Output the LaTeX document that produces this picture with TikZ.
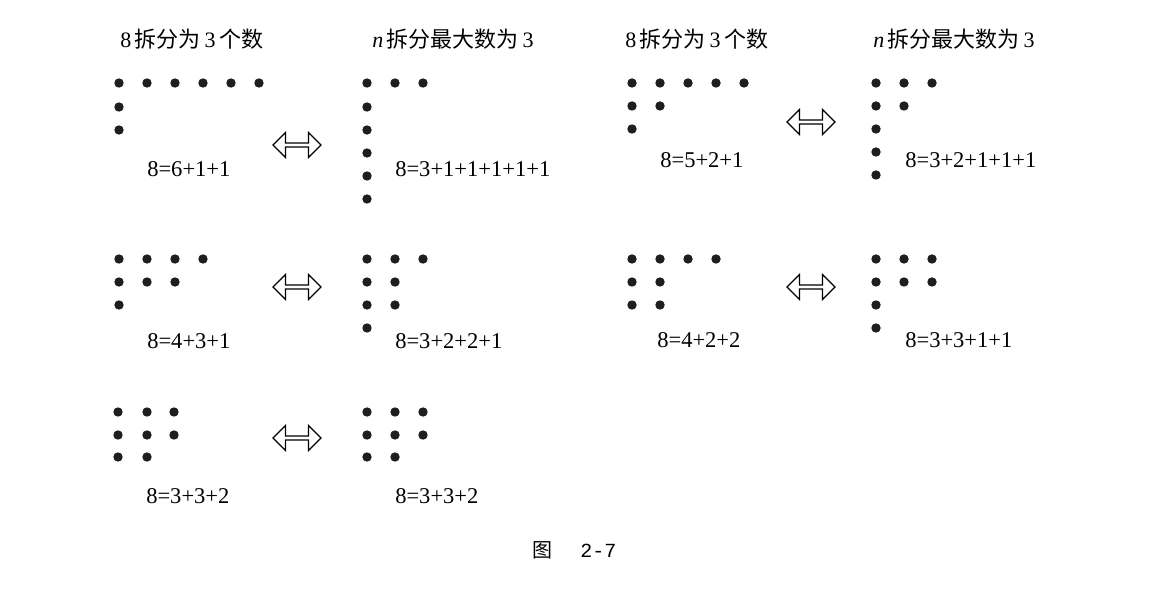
\documentclass[tikz,border=0pt]{standalone}
\usepackage{fontspec}
\setmainfont{Liberation Serif}
\newfontfamily\cjk{Noto Sans CJK SC}
\newfontfamily\monof{Liberation Mono}
\usetikzlibrary{shapes.arrows}

\begin{document}
\begin{tikzpicture}[x=0.75pt,y=0.75pt,yscale=-1,xscale=1,
  dot/.style={fill={rgb, 255:red, 30; green, 30; blue, 30 }},
  eqn/.style={anchor=base west,inner sep=0pt,font=\fontsize{16.9}{20}\selectfont},
  ttl/.style={anchor=base west,inner sep=0pt,font=\fontsize{16.5}{20}\selectfont},
  eqarrow/.style={double arrow,draw,fill=white,line width=0.9pt,inner sep=0pt,minimum height=36pt,minimum width=18.75pt,double arrow head extend=2.5pt}]
%set diagram size
\path (0,0) rectangle (1155,591);

% Text Node
\node[ttl] (ttlA) at (120,48) {8\,{\cjk 拆分为}\,3\,{\cjk 个数}};
% Text Node
\node[ttl] (ttlB) at (372,48) {\textit{n}\,{\cjk 拆分最大数为}\,3};
% Text Node
\node[ttl] (ttlC) at (625,48) {8\,{\cjk 拆分为}\,3\,{\cjk 个数}};
% Text Node
\node[ttl] (ttlD) at (873,48) {\textit{n}\,{\cjk 拆分最大数为}\,3};

%Shape: Circle -- 8=6+1+1
\fill[dot] (119,83) circle[radius=4.7] (147,83) circle[radius=4.7] (175,83) circle[radius=4.7] (203,83) circle[radius=4.7] (231,83) circle[radius=4.7] (259,83) circle[radius=4.7];
\fill[dot] (119,107) circle[radius=4.7];
\fill[dot] (119,130) circle[radius=4.7];
%Shape: Circle -- 8=3+1+1+1+1+1
\fill[dot] (367,83) circle[radius=4.7] (395,83) circle[radius=4.7] (423,83) circle[radius=4.7];
\fill[dot] (367,107) circle[radius=4.7];
\fill[dot] (367,130) circle[radius=4.7];
\fill[dot] (367,153) circle[radius=4.7];
\fill[dot] (367,176) circle[radius=4.7];
\fill[dot] (367,199) circle[radius=4.7];
%Shape: Circle -- 8=5+2+1
\fill[dot] (632,83) circle[radius=4.7] (660,83) circle[radius=4.7] (688,83) circle[radius=4.7] (716,83) circle[radius=4.7] (744,83) circle[radius=4.7];
\fill[dot] (632,106) circle[radius=4.7] (660,106) circle[radius=4.7];
\fill[dot] (632,129) circle[radius=4.7];
%Shape: Circle -- 8=3+2+1+1+1
\fill[dot] (876,83) circle[radius=4.7] (904,83) circle[radius=4.7] (932,83) circle[radius=4.7];
\fill[dot] (876,106) circle[radius=4.7] (904,106) circle[radius=4.7];
\fill[dot] (876,129) circle[radius=4.7];
\fill[dot] (876,152) circle[radius=4.7];
\fill[dot] (876,175) circle[radius=4.7];

%Shape: Circle -- 8=4+3+1
\fill[dot] (119,259) circle[radius=4.7] (147,259) circle[radius=4.7] (175,259) circle[radius=4.7] (203,259) circle[radius=4.7];
\fill[dot] (119,282) circle[radius=4.7] (147,282) circle[radius=4.7] (175,282) circle[radius=4.7];
\fill[dot] (119,305) circle[radius=4.7];
%Shape: Circle -- 8=3+2+2+1
\fill[dot] (367,259) circle[radius=4.7] (395,259) circle[radius=4.7] (423,259) circle[radius=4.7];
\fill[dot] (367,282) circle[radius=4.7] (395,282) circle[radius=4.7];
\fill[dot] (367,305) circle[radius=4.7] (395,305) circle[radius=4.7];
\fill[dot] (367,328) circle[radius=4.7];
%Shape: Circle -- 8=4+2+2
\fill[dot] (632,259) circle[radius=4.7] (660,259) circle[radius=4.7] (688,259) circle[radius=4.7] (716,259) circle[radius=4.7];
\fill[dot] (632,282) circle[radius=4.7] (660,282) circle[radius=4.7];
\fill[dot] (632,305) circle[radius=4.7] (660,305) circle[radius=4.7];
%Shape: Circle -- 8=3+3+1+1
\fill[dot] (876,259) circle[radius=4.7] (904,259) circle[radius=4.7] (932,259) circle[radius=4.7];
\fill[dot] (876,282) circle[radius=4.7] (904,282) circle[radius=4.7] (932,282) circle[radius=4.7];
\fill[dot] (876,305) circle[radius=4.7];
\fill[dot] (876,328) circle[radius=4.7];

%Shape: Circle -- 8=3+3+2
\fill[dot] (118,412) circle[radius=4.7] (147,412) circle[radius=4.7] (174,412) circle[radius=4.7];
\fill[dot] (118,435) circle[radius=4.7] (147,435) circle[radius=4.7] (174,435) circle[radius=4.7];
\fill[dot] (118,457) circle[radius=4.7] (147,457) circle[radius=4.7];
%Shape: Circle -- 8=3+3+2
\fill[dot] (367,412) circle[radius=4.7] (395,412) circle[radius=4.7] (423,412) circle[radius=4.7];
\fill[dot] (367,435) circle[radius=4.7] (395,435) circle[radius=4.7] (423,435) circle[radius=4.7];
\fill[dot] (367,457) circle[radius=4.7] (395,457) circle[radius=4.7];

%Shape: Double Arrow
\node[eqarrow] (arrA) at (297,145) {};
\node[eqarrow] (arrB) at (811,122) {};
\node[eqarrow] (arrC) at (297,287) {};
\node[eqarrow] (arrD) at (811,287) {};
\node[eqarrow] (arrE) at (297,438) {};

% Text Node
\node[eqn] (eqA) at (147,177) {8=6+1+1};
% Text Node
\node[eqn] (eqB) at (395,177) {8=3+1+1+1+1+1};
% Text Node
\node[eqn] (eqC) at (660,168) {8=5+2+1};
% Text Node
\node[eqn] (eqD) at (905,168) {8=3+2+1+1+1};
% Text Node
\node[eqn] (eqE) at (147,348) {8=4+3+1};
% Text Node
\node[eqn] (eqF) at (395,348) {8=3+2+2+1};
% Text Node
\node[eqn] (eqG) at (657,347) {8=4+2+2};
% Text Node
\node[eqn] (eqH) at (905,347) {8=3+3+1+1};
% Text Node
\node[eqn] (eqI) at (146,503) {8=3+3+2};
% Text Node
\node[eqn] (eqJ) at (395,503) {8=3+3+2};

% Text Node
\node[anchor=base west,inner sep=0pt,font=\fontsize{15}{18}\selectfont] (cap) at (532,557) {{\cjk 图}\hspace{21pt}{\monof 2-7}};

\end{tikzpicture}
\end{document}
